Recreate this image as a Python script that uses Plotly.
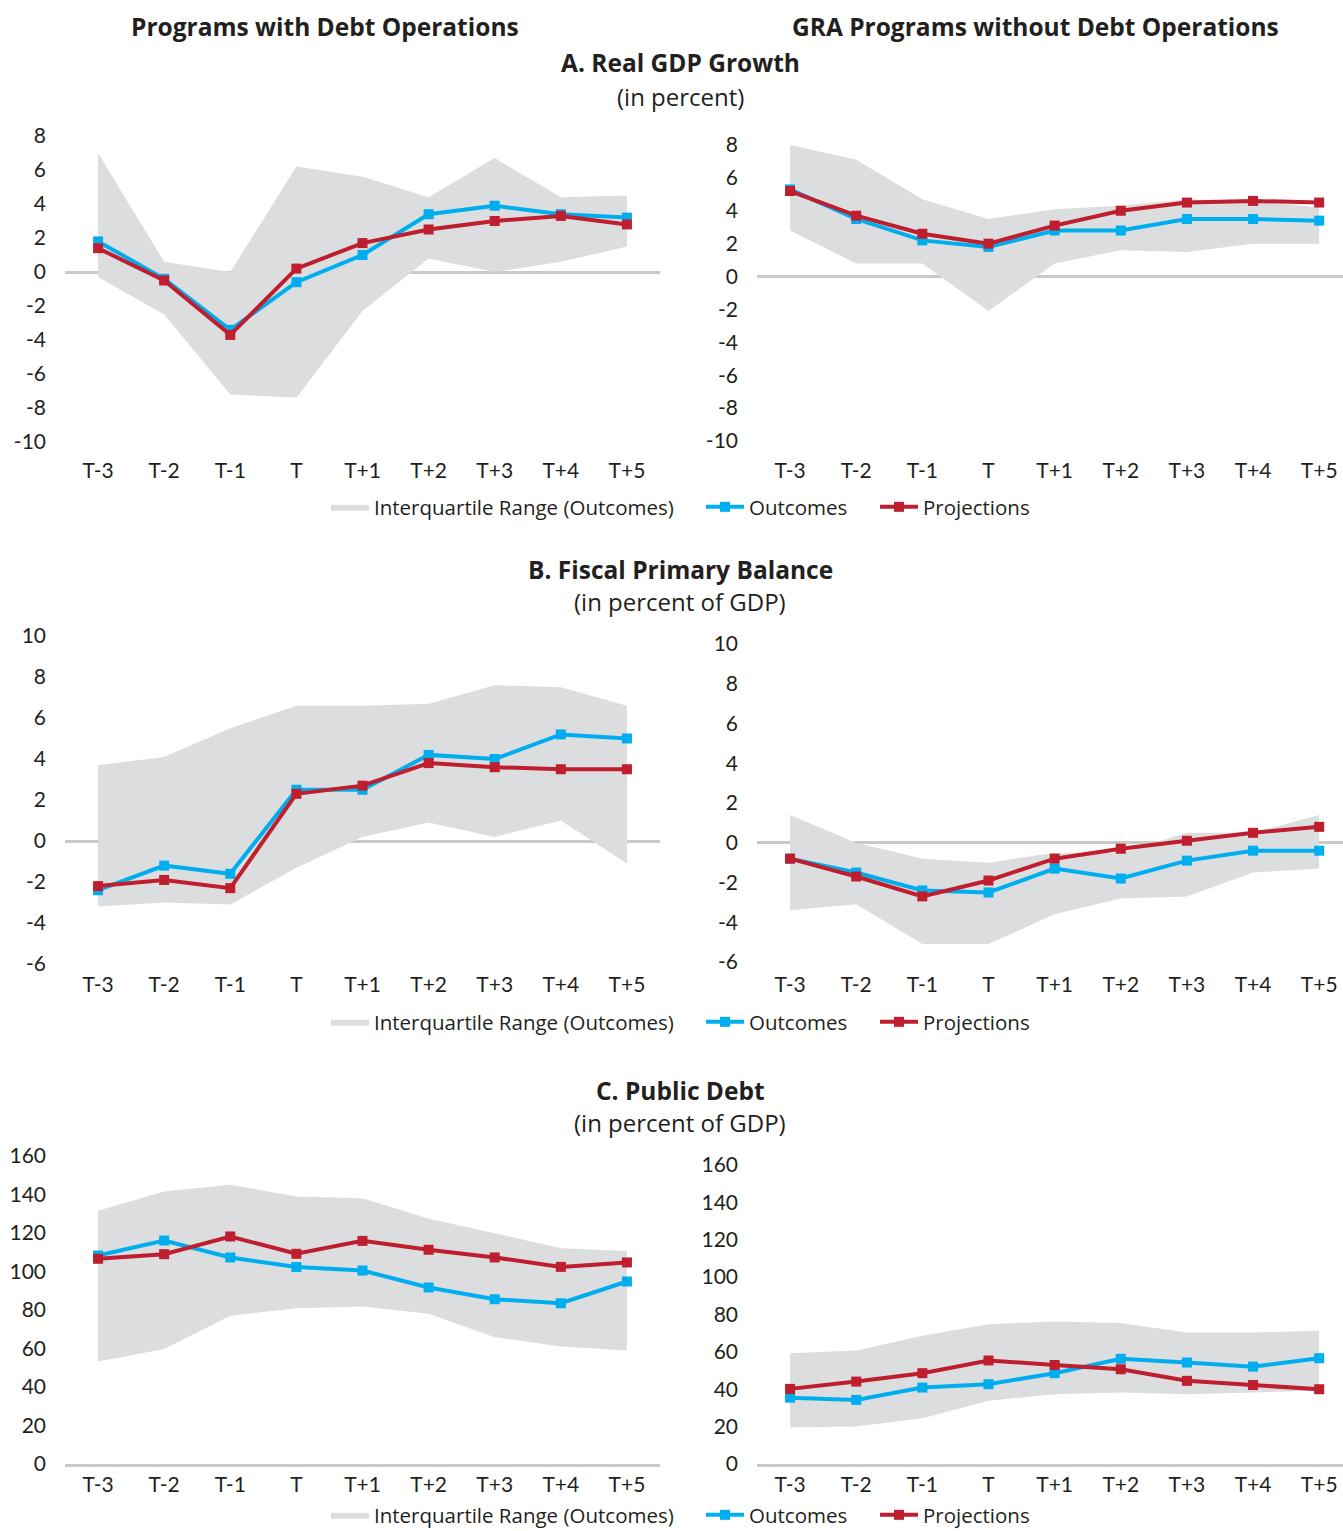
import plotly.graph_objects as go

periods = ["T-3", "T-2", "T-1", "T", "T+1", "T+2", "T+3", "T+4", "T+5"]

# A. Real GDP growth (percent)
gdp_debt_outcomes = [1.8, -0.4, -3.4, -0.6, 1.0, 3.4, 3.9, 3.4, 3.2]
gdp_debt_projections = [1.4, -0.5, -3.7, 0.2, 1.7, 2.5, 3.0, 3.3, 2.8]
gdp_debt_p75 = [7.0, 0.6, 0.0, 6.2, 5.6, 4.4, 6.7, 4.4, 4.5]
gdp_debt_p25 = [-0.3, -2.5, -7.2, -7.4, -2.3, 0.8, 0.0, 0.6, 1.5]

gdp_gra_outcomes = [5.3, 3.5, 2.2, 1.8, 2.8, 2.8, 3.5, 3.5, 3.4]
gdp_gra_projections = [5.2, 3.7, 2.6, 2.0, 3.1, 4.0, 4.5, 4.6, 4.5]
gdp_gra_p75 = [8.0, 7.1, 4.7, 3.5, 4.1, 4.3, 4.7, 4.6, 4.2]
gdp_gra_p25 = [2.8, 0.8, 0.8, -2.1, 0.8, 1.6, 1.5, 2.0, 2.0]

# B. Fiscal primary balance (percent of GDP)
pb_debt_outcomes = [-2.4, -1.2, -1.6, 2.5, 2.5, 4.2, 4.0, 5.2, 5.0]
pb_debt_projections = [-2.2, -1.9, -2.3, 2.3, 2.7, 3.8, 3.6, 3.5, 3.5]
pb_debt_p75 = [3.7, 4.1, 5.5, 6.6, 6.6, 6.7, 7.6, 7.5, 6.6]
pb_debt_p25 = [-3.2, -3.0, -3.1, -1.3, 0.2, 0.9, 0.2, 1.0, -1.1]

pb_gra_outcomes = [-0.8, -1.5, -2.4, -2.5, -1.3, -1.8, -0.9, -0.4, -0.4]
pb_gra_projections = [-0.8, -1.7, -2.7, -1.9, -0.8, -0.3, 0.1, 0.5, 0.8]
pb_gra_p75 = [1.4, 0.0, -0.8, -1.0, -0.5, -0.5, 0.5, 0.5, 1.4]
pb_gra_p25 = [-3.4, -3.1, -5.1, -5.1, -3.6, -2.8, -2.7, -1.5, -1.3]

# C. Public debt (percent of GDP)
debt_debt_outcomes = [108.3, 116.1, 107.3, 102.3, 100.5, 91.7, 85.6, 83.5, 94.8]
debt_debt_projections = [106.6, 109.0, 118.2, 109.2, 115.9, 111.3, 107.3, 102.4, 104.7]
debt_debt_p75 = [131.5, 141.6, 145.1, 139.0, 138.1, 127.4, 119.9, 112.1, 110.7]
debt_debt_p25 = [53.2, 59.8, 77.0, 80.9, 81.8, 78.0, 65.9, 61.0, 58.9]

debt_gra_outcomes = [35.5, 34.3, 40.9, 42.7, 48.6, 56.3, 54.3, 52.1, 56.6]
debt_gra_projections = [40.2, 44.1, 48.6, 55.4, 53.0, 50.7, 44.5, 42.3, 40.0]
debt_gra_p75 = [59.3, 60.7, 68.6, 74.8, 76.3, 75.4, 70.4, 70.4, 71.3]
debt_gra_p25 = [19.5, 20.0, 24.5, 33.9, 37.3, 38.2, 37.3, 38.2, 39.3]

# Axis ticks
gdp_ticks = [-10, -8, -6, -4, -2, 0, 2, 4, 6, 8]
pb_ticks = [-6, -4, -2, 0, 2, 4, 6, 8, 10]
debt_ticks = [0, 20, 40, 60, 80, 100, 120, 140, 160]

column_titles = ["Programs with Debt Operations", "GRA Programs without Debt Operations"]
panel_titles = ["A. Real GDP Growth", "B. Fiscal Primary Balance", "C. Public Debt"]
panel_units = ["(in percent)", "(in percent of GDP)", "(in percent of GDP)"]
series_names = ["Interquartile Range (Outcomes)", "Outcomes", "Projections"]

BLUE = "#00AEEF"
RED = "#BE1E2D"
BAND = "#DCDDDE"
TEXT = "#231F20"
AXIS = "#C9C9C9"
TICK_FONT = "Lato"
TEXT_FONT = "Open Sans"

W, H = 1343, 1531


def py(px):
    return 1 - px / H


def label(v):
    return str(v)


fig = go.Figure()

panels = [
    # (row, col, data, ticks, yrange, plot top px, plot bottom px, x ticklabel standoff)
    (0, 0, (gdp_debt_outcomes, gdp_debt_projections, gdp_debt_p75, gdp_debt_p25), gdp_ticks, [-10, 8], 136, 442, 14),
    (0, 1, (gdp_gra_outcomes, gdp_gra_projections, gdp_gra_p75, gdp_gra_p25), gdp_ticks, [-10, 8], 145, 441, 15),
    (1, 0, (pb_debt_outcomes, pb_debt_projections, pb_debt_p75, pb_debt_p25), pb_ticks, [-6, 10], 636, 964, 6),
    (1, 1, (pb_gra_outcomes, pb_gra_projections, pb_gra_p75, pb_gra_p25), pb_ticks, [-6, 10], 644, 962, 8),
    (2, 0, (debt_debt_outcomes, debt_debt_projections, debt_debt_p75, debt_debt_p25), debt_ticks, [0, 160], 1156, 1464, 0),
    (2, 1, (debt_gra_outcomes, debt_gra_projections, debt_gra_p75, debt_gra_p25), debt_ticks, [0, 160], 1165, 1464, 0),
]

# one legend per entry so each can sit where it belongs in its row
legend_rows_px = [507, 1022, 1515]
legend_cols_px = [331, 706, 880]


def legend_id(row, item):
    k = row * 3 + item + 1
    return "legend" if k == 1 else f"legend{k}"


for i, (row, col, data, ticks, yr, top, bot, xstand) in enumerate(panels):
    n = i + 1
    xa = "x" if n == 1 else f"x{n}"
    ya = "y" if n == 1 else f"y{n}"
    outcomes, projections, p75, p25 = data
    show = col == 0

    fig.add_trace(go.Scatter(
        x=periods + periods[::-1], y=p75 + p25[::-1],
        fill="toself", fillcolor=BAND, mode="lines", line=dict(width=0, color=BAND),
        name=series_names[0], showlegend=show, legend=legend_id(row, 0), hoverinfo="skip",
        xaxis=xa, yaxis=ya))
    fig.add_trace(go.Scatter(
        x=periods, y=outcomes, mode="lines+markers",
        line=dict(color=BLUE, width=4), marker=dict(symbol="square", size=10, color=BLUE),
        name=series_names[1], showlegend=show, legend=legend_id(row, 1), xaxis=xa, yaxis=ya))
    fig.add_trace(go.Scatter(
        x=periods, y=projections, mode="lines+markers",
        line=dict(color=RED, width=4), marker=dict(symbol="square", size=10, color=RED),
        name=series_names[2], showlegend=show, legend=legend_id(row, 2), xaxis=xa, yaxis=ya))

    if col == 0:
        xdom = [65 / W, 660 / W]
        xrange = [-0.5, 8.5]
    else:
        xdom = [757 / W, 1.0]
        xrange = [-0.5, 8.36]

    is_debt = row == 2
    fig.layout[f"xaxis{'' if n == 1 else n}"] = dict(
        domain=xdom, anchor=ya, type="category", categoryorder="array", categoryarray=periods,
        range=xrange, showgrid=False, zeroline=False, ticks="", automargin=False,
        showline=is_debt, linecolor=AXIS, linewidth=2.5,
        tickfont=dict(family=TICK_FONT, size=21, color=TEXT), ticklabelstandoff=xstand)
    fig.layout[f"yaxis{'' if n == 1 else n}"] = dict(
        domain=[py(bot), py(top)], anchor=xa, range=yr, showgrid=False, automargin=False,
        zeroline=not is_debt, zerolinecolor=AXIS, zerolinewidth=2.5,
        tickvals=ticks, ticktext=[label(t) for t in ticks], ticks="", showline=False,
        tickfont=dict(family=TICK_FONT, size=21, color=TEXT), ticklabelstandoff=18)

for row, ypx in enumerate(legend_rows_px):
    for item, xpx in enumerate(legend_cols_px):
        fig.layout[legend_id(row, item)] = dict(
            orientation="h", x=(xpx - 5) / W, xanchor="left", y=py(ypx), yanchor="middle",
            font=dict(family=TEXT_FONT, size=20.5, color=TEXT), bgcolor="rgba(0,0,0,0)",
            itemwidth=38)

annotations = [
    dict(text=f"<b>{column_titles[0]}</b>", x=325 / W, y=py(27), size=24.5),
    dict(text=f"<b>{column_titles[1]}</b>", x=1035 / W, y=py(27), size=24.5),
]
title_y = [(63, 96), (569, 601), (1090, 1122)]
for t, u, (ty, uy) in zip(panel_titles, panel_units, title_y):
    annotations.append(dict(text=f"<b>{t}</b>", x=680 / W, y=py(ty), size=24.5))
    annotations.append(dict(text=u, x=680 / W, y=py(uy), size=24))

fig.update_layout(
    width=W, height=H, margin=dict(l=0, r=0, t=0, b=0, autoexpand=False),
    paper_bgcolor="white", plot_bgcolor="white",
    font=dict(family=TEXT_FONT, color=TEXT),
    annotations=[dict(text=a["text"], x=a["x"], y=a["y"], xref="paper", yref="paper",
                      xanchor="center", yanchor="middle", showarrow=False,
                      font=dict(family=TEXT_FONT, size=a["size"], color=TEXT)) for a in annotations],
)

fig.write_html("out.html")
